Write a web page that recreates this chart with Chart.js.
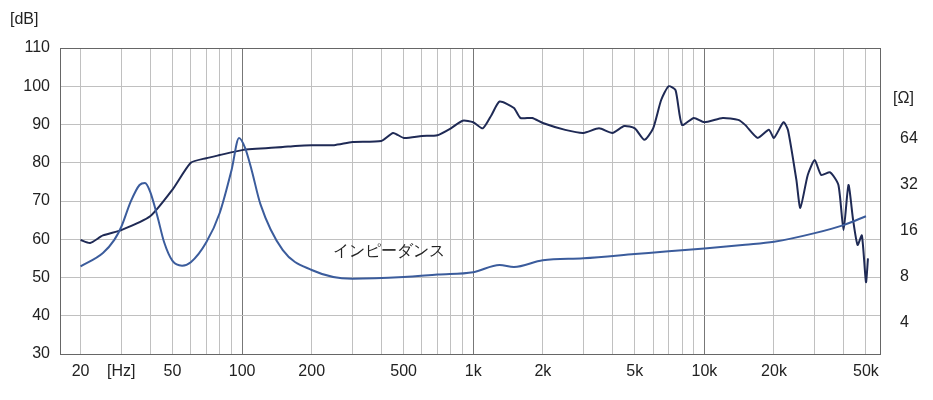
<!DOCTYPE html>
<html><head><meta charset="utf-8">
<script src="https://cdn.jsdelivr.net/npm/chart.js@4"></script>
<style>body{margin:0;background:#fff}#wrap{width:933px;height:400px}</style>
</head><body><div id="wrap"><canvas id="c"></canvas></div>
<script>
const respFreq = [20,22,25,30,40,50,60,70,80,100,150,170,200,250,300,400,450,500,600,700,800,900,1000,1100,1200,1300,1500,1600,1800,2000,2500,3000,3500,4000,4500,5000,5500,6000,6500,7000,7500,8000,9000,10000,12000,14000,15000,17000,19000,20000,22000,23000,25000,26000,28000,30000,32000,35000,38000,40000,42000,44000,46000,48000,50000,51000];
const respDb = [59.8,59,61,62.4,66,73,80,81.2,82,83.3,84.1,84.4,84.6,84.6,85.4,85.7,87.8,86.5,87,87.2,89,91,90.6,89,92.5,96,94.3,91.7,91.7,90.4,88.6,87.8,89,87.8,89.6,89,86,89,96.4,100,99,89.9,91.7,90.6,91.7,91.2,89.9,86.5,88.6,86.5,90.6,88.5,75.5,68.2,76.8,80.7,76.8,77.5,74.2,62.4,74.2,65,58.5,61,48.8,55];
const impFreq = [20,25,28,30,33,36,38,40,43,46,50,55,60,70,80,90,97,103,110,120,150,200,300,500,700,1000,1300,1500,2000,3000,5000,7000,10000,15000,20000,30000,40000,50000];
const impOhm = [9.4,11.5,14,17,25,32,33,29,20,13.5,10.2,9.5,10,13.5,21,40,65,56,40,24,12,8.9,7.8,8,8.3,8.6,9.6,9.3,10.3,10.6,11.3,11.8,12.3,13,13.6,15.5,17.5,20];
const xLabels = {20:'20',30:'[Hz]',50:'50',100:'100',200:'200',500:'500',1000:'1k',2000:'2k',5000:'5k',10000:'10k',20000:'20k',50000:'50k'};
const ohmTicks = [4,8,16,32,64];

const xTicks = [];
for (let d = 10; d <= 10000; d *= 10) for (let m = 1; m <= 9; m++) { const v = m * d; if (v >= 20 && v <= 50000) xTicks.push(v); }

const frame = { id: 'frame', afterDraw(ch) {
  const a = ch.chartArea, g = ch.ctx;
  g.save(); g.strokeStyle = '#666'; g.lineWidth = 1;
  g.strokeRect(a.left + .5, a.top + .5, a.width, a.height);
  g.fillStyle = '#222'; g.font = '16px "Liberation Sans", Arial';
  g.fillText('[dB]', 10, 24); g.fillText('[Ω]', 893, 103);
  g.fillText('インピーダンス', 333, 256);
  g.restore();
}};

new Chart(document.getElementById('c'), {
  type: 'line',
  data: { datasets: [
    { data: impFreq.map((f, i) => ({x: f, y: impOhm[i]})), yAxisID: 'y2', borderColor: '#3b5c9c', borderWidth: 2, pointRadius: 0, cubicInterpolationMode: 'monotone' },
    { data: respFreq.map((f, i) => ({x: f, y: respDb[i]})), yAxisID: 'y', borderColor: '#1f2a55', borderWidth: 2, pointRadius: 0, tension: 0.2 }
  ]},
  options: {
    responsive: true, maintainAspectRatio: false, animation: false,
    layout: { padding: { top: 48, left: 5, right: 0, bottom: 0 } },
    plugins: { legend: { display: false }, tooltip: { enabled: false } },
    scales: {
      x: { type: 'logarithmic', min: 16.3, max: 57500,
        afterBuildTicks: s => { s.ticks = xTicks.map(v => ({value: v})); },
        afterFit: s => { s.height = 46; },
        ticks: { autoSkip: false, maxRotation: 0, color: '#222', font: { size: 16, family: 'Liberation Sans' }, padding: 8,
          callback: v => xLabels[v] || '' },
        grid: { color: ctx => [100,1000,10000].includes(ctx.tick && ctx.tick.value) ? '#777' : '#c0c0c0', drawTicks: false },
        border: { display: false } },
      y: { min: 30, max: 110, afterFit: s => { s.width = 55; },
        ticks: { stepSize: 10, color: '#222', font: { size: 16, family: 'Liberation Sans' }, padding: 10 },
        grid: { color: '#c0c0c0', drawTicks: false }, border: { display: false } },
      y2: { type: 'logarithmic', position: 'right', min: 2.51, max: 252,
        afterBuildTicks: s => { s.ticks = ohmTicks.map(v => ({value: v})); },
        afterFit: s => { s.width = 53; },
        ticks: { color: '#222', font: { size: 16, family: 'Liberation Sans' }, padding: 12, callback: v => String(v) },
        grid: { display: false }, border: { display: false } }
    }
  },
  plugins: [frame]
});
</script></body></html>
